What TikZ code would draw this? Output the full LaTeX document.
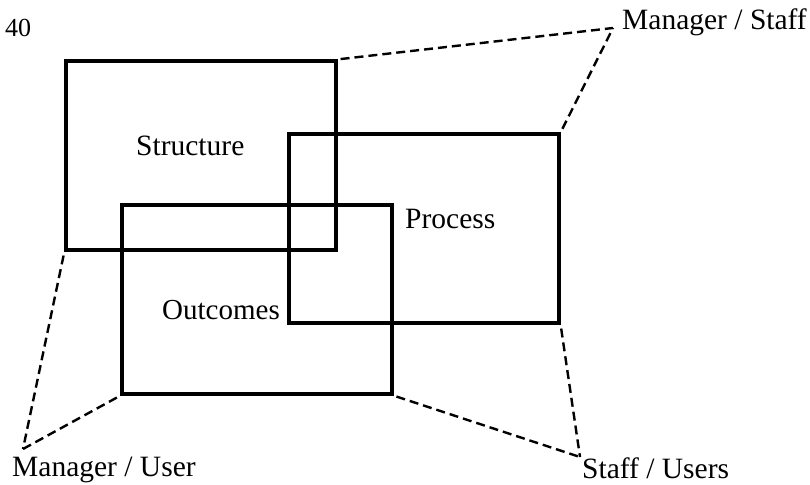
\documentclass[tikz,border=0pt]{standalone}
\usepackage{fontspec}
\setmainfont{Liberation Serif}
\begin{document}
\begin{tikzpicture}[x=1pt,y=-1pt,
  area/.style={draw=black, line width=3.2pt, minimum width=270pt, minimum height=189pt, inner sep=0pt},
  link/.style={draw=black, line width=2.4pt, dash pattern=on 9pt off 5pt},
  lbl/.style={inner sep=0pt, anchor=base west, font=\fontsize{29.5}{33}\selectfont}
]
\useasboundingbox (0,0) rectangle (810,484);

% the three overlapping areas
\node[area] (str) at (201,155.5) {};
\node[area] (pro) at (424,228.5) {};
\node[area] (out) at (257,299.5) {};

% area labels
\node[lbl] (tstr) at (136,155) {Structure};
\node[lbl] (tpro) at (405,228) {Process};
\node[lbl, font=\fontsize{29}{33}\selectfont] (tout) at (162,319) {Outcomes};
\node[lbl, font=\fontsize{26}{28}\selectfont] (pg) at (5,37) {40};

% relationship labels and the points where the dashed lines meet
\coordinate (ms) at (613,28);
\coordinate (mu) at (23,449);
\coordinate (su) at (580,457);
\node[lbl] (tms) at (622,30) {Manager / Staff};
\node[lbl] (tmu) at (12,476) {Manager / User};
\node[lbl] (tsu) at (582,478) {Staff / Users};

% dashed connectors
\draw[link, shorten <=3pt] (str.north east) -- (ms);
\draw[link, shorten <=4pt] (pro.north east) -- (ms);
\draw[link, shorten <=4pt] (str.south west) -- (mu);
\draw[link, shorten <=4pt] (out.south west) -- (mu);
\draw[link, shorten <=4pt] (pro.south east) -- (su);
\draw[link, shorten <=3pt] (out.south east) -- (su);
\end{tikzpicture}
\end{document}
